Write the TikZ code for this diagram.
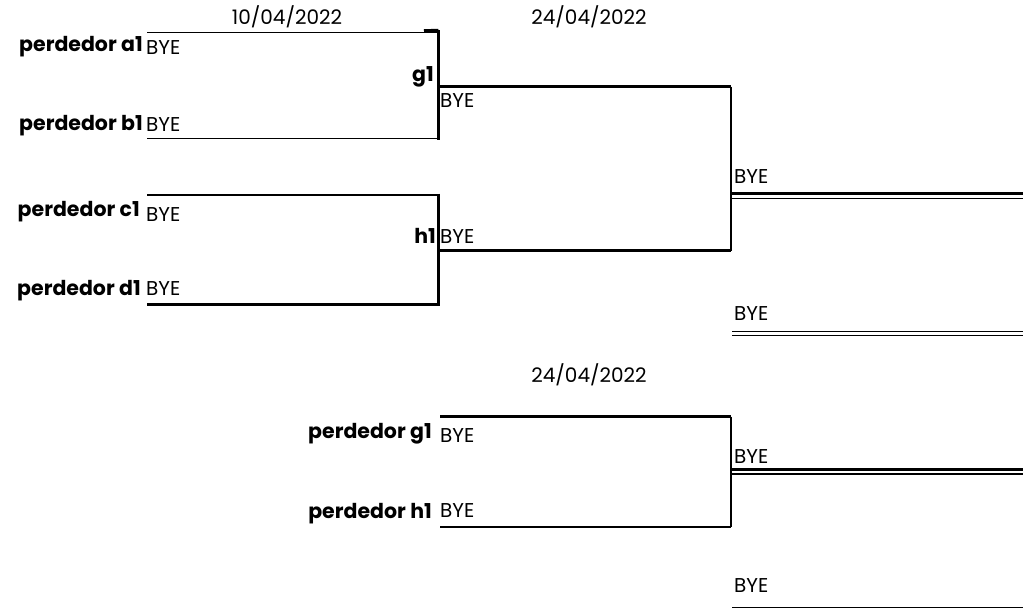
\documentclass[tikz,border=0pt]{standalone}
\usepackage{fontspec}
\setmainfont{Poppins}
\begin{document}
\begin{tikzpicture}[x=1pt,y=-1pt,
  lbl/.style={font=\fontsize{20.5}{20.5}\selectfont\bfseries, anchor=base east, inner sep=0pt},
  bye/.style={font=\fontsize{20}{20}\selectfont, anchor=base west, inner sep=0pt},
  datelbl/.style={font=\fontsize{20}{20}\selectfont, anchor=base, inner sep=0pt},
  thinln/.style={line width=1.8pt},
  thickln/.style={line width=3.5pt},
  dblthin/.style={line width=1.6pt}]
\useasboundingbox (0,0) rectangle (1032,610);
% coordinates
\coordinate (a) at (147,32.5);
\coordinate (b) at (147,138.5);
\coordinate (c) at (147,195);
\coordinate (d) at (147,304.5);
\coordinate (gt) at (438.5,30.5);
\coordinate (gtr) at (438.5,32.5);
\coordinate (gbr) at (438.5,138.5);
\coordinate (gb) at (438.5,140);
\coordinate (ht) at (438.5,193.5);
\coordinate (hb) at (438.5,306);
\coordinate (gout) at (438.5,86.5);
\coordinate (hout) at (438.5,250.5);
\coordinate (fgt) at (731,86.5);
\coordinate (fhb) at (731,250.5);
\coordinate (fo1) at (730,193.5);
\coordinate (fo1e) at (1023,193.5);
\coordinate (fo2) at (730,198.5);
\coordinate (fo2e) at (1023,198.5);
\coordinate (s1) at (732,331.5);
\coordinate (s1e) at (1023,331.5);
\coordinate (s2) at (732,335.3);
\coordinate (s2e) at (1023,335.3);
\coordinate (lg) at (440,416.5);
\coordinate (lh) at (440,527);
\coordinate (lgr) at (731,416.5);
\coordinate (lhr) at (731,527);
\coordinate (lf1) at (731,469.3);
\coordinate (lf1e) at (1023,469.3);
\coordinate (lf2) at (731,474.3);
\coordinate (lf2e) at (1023,474.3);
\coordinate (lb) at (732,607.5);
\coordinate (lbe) at (1023,607.5);
% first round brackets
\draw[thinln] (a) -- (gtr);
\draw[thinln] (b) -- (gbr);
\draw[thickln] (gt) -- (gb);
\draw[thickln] (424,31) -- (gt);
\draw[thinln] (c) -- (ht |- c);
\draw[thickln] (d) -- (hb |- d);
\draw[thickln] (ht) -- (hb);
% second round
\draw[thickln] (gout) -- (fgt);
\draw[thickln] (hout) -- (fhb);
\draw[thinln] (fgt) -- (fhb);
\draw[line width=2.6pt] (fo1) -- (fo1e);
\draw[dblthin] (fo2) -- (fo2e);
\draw[dblthin] (s1) -- (s1e);
\draw[dblthin] (s2) -- (s2e);
% loser bracket
\draw[thickln] (lg) -- (lgr);
\draw[thinln] (lh) -- (lhr);
\draw[thinln] (lgr) -- (lhr);
\draw[line width=2.6pt] (lf1) -- (lf1e);
\draw[line width=2pt] (lf2) -- (lf2e);
\draw[thinln] (lb) -- (lbe);
% labels
\node[datelbl] (d1) at (287,25) {10/04/2022};
\node[datelbl] (d2) at (589,25) {24/04/2022};
\node[datelbl] (d3) at (589,382) {24/04/2022};
\node[lbl] (pa) at (143,51.5) {perdedor a1};
\node[lbl] (pb) at (143,130) {perdedor b1};
\node[lbl] (pc) at (140,216.5) {perdedor c1};
\node[lbl] (pd) at (141,295) {perdedor d1};
\node[bye] (ba) at (146,55) {BYE};
\node[bye] (bb) at (146,131) {BYE};
\node[bye] (bc) at (146,221.5) {BYE};
\node[bye] (bd) at (146,295) {BYE};
\node[lbl] (g1) at (434,81.5) {g1};
\node[bye] (bg) at (440,107) {BYE};
\node[lbl] (h1) at (436,243) {h1};
\node[bye] (bh) at (440,243) {BYE};
\node[bye] (bf) at (734,183) {BYE};
\node[bye] (bs) at (734,320) {BYE};
\node[lbl] (pg) at (432,438) {perdedor g1};
\node[lbl] (ph) at (432,518) {perdedor h1};
\node[bye] (bpg) at (440,442) {BYE};
\node[bye] (bph) at (440,517) {BYE};
\node[bye] (blf) at (734,463) {BYE};
\node[bye] (blb) at (734,592) {BYE};
\end{tikzpicture}
\end{document}
